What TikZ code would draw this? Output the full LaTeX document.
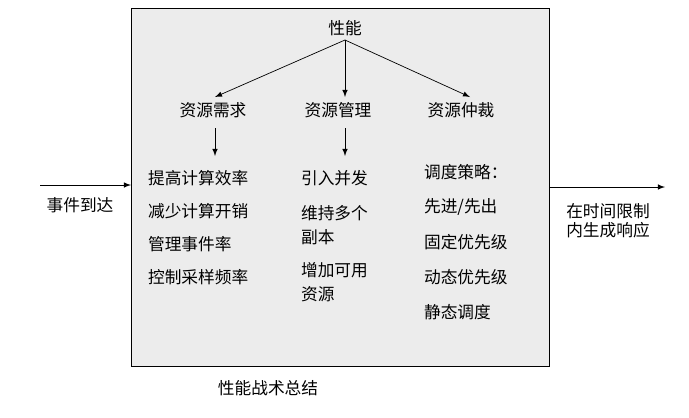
\documentclass[tikz,border=0pt]{standalone}
\usepackage{fontspec}
\newfontfamily\cjk{Noto Sans CJK SC}
\usetikzlibrary{positioning}
\tikzset{
  txt/.style={font=\cjk\fontsize{9.5}{11}\selectfont, inner sep=1pt},
  item/.style={txt, anchor=west},
  flow/.style={-latex, thin}
}
\begin{document}
\begin{tikzpicture}[x=0.02cm, y=-0.02cm]
\useasboundingbox (0,0) rectangle (689,417);
\draw[fill=gray!15] (131,8) rectangle (549,366);
% top
\node[txt] (perf) at (345,28) {性能};
\node[txt] (need) at (213,110) {资源需求};
\node[txt] (mgmt) at (338,110) {资源管理};
\node[txt] (arb) at (461,110) {资源仲裁};
\coordinate (fork) at (345,40);
\coordinate (t1) at (215,97);
\coordinate (t2) at (345,97);
\coordinate (t3) at (470,97);
\draw[flow] (fork) -- (t1);
\draw[flow] (fork) -- (t2);
\draw[flow] (fork) -- (t3);
% columns
\foreach \t [count=\i] in {提高计算效率,减少计算开销,管理事件率,控制采样频率}
  \node[item] (a\i) at (146,{145+33*\i}) {\t};
\node[item] (b1) at (299,178) {引入并发};
\node[item] (b2) at (299,213) {维持多个};
\node[item] (b3) at (299,237) {副本};
\node[item] (b4) at (299,270) {增加可用};
\node[item] (b5) at (299,294) {资源};
\foreach \t [count=\i] in {调度策略：,先进/先出,固定优先级,动态优先级,静态调度}
  \node[item] (c\i) at (422,{137+35*\i}) {\t};
\coordinate (n1) at (215,128);
\coordinate (n2) at (215,156);
\coordinate (m1) at (345,128);
\coordinate (m2) at (345,156);
\draw[flow] (n1) -- (n2);
\draw[flow] (m1) -- (m2);
% in and out
\coordinate (inL) at (40,185);
\coordinate (inR) at (131,185);
\draw[flow] (inL) -- (inR);
\node[txt] (event) at (80,205) {事件到达};
\coordinate (outL) at (549,187);
\coordinate (outR) at (665,187);
\draw[flow] (outL) -- (outR);
\node[txt, align=left] (resp) at (608,221) {在时间限制\\内生成响应};
\node[txt] (cap) at (268,388) {性能战术总结};
\end{tikzpicture}
\end{document}
